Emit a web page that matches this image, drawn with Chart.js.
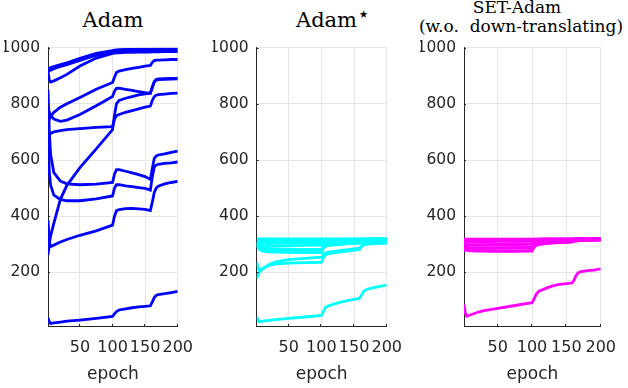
<!DOCTYPE html>
<html>
<head>
<meta charset="utf-8">
<script src="https://cdn.jsdelivr.net/npm/chart.js@4/dist/chart.umd.min.js"></script>
<style>
  body { margin: 0; background: #fff; width: 628px; height: 388px; position: relative; overflow: hidden; }
  canvas { position: absolute; top: 0; }
  .title { position: absolute; font-family: 'DejaVu Serif', serif; color: #000; white-space: pre; transform: translateX(-50%); line-height: 1; }
</style>
</head>
<body>
<div class="title" style="left:113px; top:10px; font-size:21px;">Adam</div>
<div class="title" style="left:333px; top:10px; font-size:21px;">Adam<sup style="font-size:21px; vertical-align:6px; line-height:0;">⋆</sup></div>
<div class="title" style="left:517px; top:-1px; font-size:17px;">SET-Adam</div>
<div class="title" style="left:521px; top:18px; font-size:17px;">(w.o.  down-translating)</div>
<canvas id="adam" width="205" height="388" style="left:0px"></canvas>
<canvas id="adamStar" width="206" height="388" style="left:208px"></canvas>
<canvas id="setAdam" width="212" height="388" style="left:416px"></canvas>
<script>
const EPOCHS = [1, 3, 5, 10, 20, 30, 50, 75, 100, 103, 106, 110, 120, 130, 140, 150, 158, 161, 164, 167, 170, 180, 190, 200];
const X_TICKS = [50, 100, 150, 200];
const Y_TICKS = [200, 400, 600, 800, 1000];

// Adam (blue)
const adamRuns = [
  [925, 927, 929, 933, 940, 946, 962, 980, 990, 991, 992, 993, 994, 994, 995, 995, 995, 995, 996, 996, 996, 996, 996, 996],
  [915, 918, 920, 925, 933, 940, 955, 973, 985, 986, 987, 987, 988, 988, 988, 989, 989, 989, 990, 990, 990, 990, 991, 991],
  [915, 885, 878, 882, 893, 905, 935, 963, 980, 981, 982, 982, 983, 983, 984, 984, 984, 985, 985, 985, 985, 986, 986, 986],
  [730, 745, 755, 770, 788, 800, 823, 852, 876, 895, 912, 917, 922, 926, 930, 934, 937, 948, 954, 956, 956, 957, 958, 958],
  [790, 770, 758, 746, 738, 742, 762, 793, 826, 845, 855, 856, 852, 848, 844, 840, 838, 860, 880, 887, 889, 890, 891, 891],
  [262, 300, 330, 375, 460, 510, 573, 640, 708, 760, 800, 812, 820, 826, 832, 836, 838, 858, 878, 884, 886, 887, 888, 889],
  [684, 690, 695, 700, 705, 708, 712, 716, 719, 745, 758, 762, 770, 776, 782, 788, 792, 812, 826, 831, 833, 835, 837, 838],
  [850, 700, 620, 555, 525, 515, 512, 514, 520, 550, 566, 566, 560, 554, 548, 541, 531, 570, 606, 614, 618, 622, 627, 632],
  [700, 560, 510, 475, 460, 455, 455, 462, 472, 500, 512, 512, 508, 505, 502, 499, 493, 540, 575, 582, 585, 588, 590, 593],
  [386, 310, 292, 297, 308, 317, 332, 348, 368, 400, 420, 423, 427, 428, 426, 424, 420, 450, 485, 500, 507, 515, 520, 524],
  [38, 25, 18, 20, 23, 26, 30, 36, 43, 52, 60, 66, 70, 74, 77, 79, 81, 95, 110, 118, 121, 124, 128, 132]
];

// Adam* (cyan)
const adamStarRuns = [
  [319, 319, 319, 319, 319, 319, 319, 319, 319, 319, 319, 319, 319, 319, 319, 319, 319, 319, 319, 319, 319, 320, 320, 320],
  [314, 314, 314, 314, 314, 314, 315, 315, 315, 316, 317, 317, 317, 317, 318, 318, 318, 318, 318, 318, 318, 318, 318, 318],
  [310, 308, 307, 306, 305, 305, 305, 306, 306, 309, 311, 312, 313, 314, 315, 315, 315, 316, 316, 316, 316, 316, 317, 317],
  [305, 300, 298, 296, 295, 295, 295, 296, 297, 302, 305, 307, 309, 310, 311, 312, 312, 313, 313, 314, 314, 314, 315, 315],
  [305, 296, 292, 288, 285, 284, 283, 282, 282, 293, 298, 300, 302, 304, 305, 306, 307, 309, 311, 312, 312, 313, 313, 314],
  [300, 288, 282, 276, 273, 272, 271, 270, 270, 286, 292, 295, 298, 300, 302, 303, 304, 306, 308, 309, 310, 311, 311, 312],
  [296, 288, 284, 280, 278, 277, 276, 276, 276, 290, 295, 297, 299, 301, 302, 304, 305, 307, 309, 310, 310, 311, 312, 312],
  [237, 215, 208, 215, 225, 230, 233, 235, 236, 252, 262, 266, 270, 273, 276, 279, 281, 290, 297, 300, 301, 302, 303, 304],
  [178, 192, 200, 212, 228, 237, 245, 250, 254, 262, 268, 272, 275, 278, 281, 284, 286, 293, 299, 301, 302, 303, 304, 305],
  [312, 311, 311, 310, 310, 310, 311, 311, 312, 314, 315, 316, 316, 317, 317, 317, 318, 318, 318, 318, 318, 319, 319, 319],
  [41, 30, 24, 26, 29, 32, 36, 41, 47, 60, 74, 80, 88, 94, 99, 104, 107, 118, 130, 136, 140, 146, 150, 155]
];

// SET-Adam without down-translating (magenta)
const setAdamRuns = [
  [318, 318, 318, 318, 318, 318, 318, 318, 318, 318, 318, 318, 318, 318, 318, 318, 318, 318, 318, 318, 318, 319, 319, 319],
  [316, 316, 316, 316, 316, 316, 317, 317, 317, 318, 318, 318, 319, 319, 319, 319, 319, 320, 320, 320, 320, 320, 320, 320],
  [312, 312, 312, 312, 312, 313, 313, 314, 314, 316, 317, 317, 318, 318, 318, 318, 318, 319, 319, 319, 319, 319, 319, 319],
  [305, 302, 300, 299, 298, 298, 298, 299, 300, 306, 309, 311, 312, 313, 314, 315, 315, 316, 316, 317, 317, 317, 318, 318],
  [300, 292, 289, 287, 287, 287, 287, 288, 289, 298, 303, 305, 307, 309, 310, 311, 312, 313, 314, 315, 315, 316, 316, 317],
  [296, 287, 283, 280, 278, 277, 277, 277, 278, 292, 298, 301, 304, 306, 307, 308, 309, 311, 312, 313, 313, 314, 315, 315],
  [290, 282, 279, 277, 276, 276, 275, 275, 276, 290, 296, 299, 302, 304, 306, 307, 308, 310, 311, 312, 313, 314, 314, 315],
  [273, 282, 285, 286, 287, 287, 287, 288, 288, 298, 303, 306, 308, 310, 311, 312, 313, 314, 315, 315, 316, 316, 317, 317],
  [280, 292, 295, 297, 298, 299, 300, 301, 302, 308, 311, 312, 313, 314, 315, 315, 316, 316, 316, 317, 317, 317, 318, 318],
  [310, 309, 309, 309, 309, 309, 310, 310, 311, 313, 314, 315, 315, 316, 316, 316, 317, 317, 317, 317, 318, 318, 318, 318],
  [86, 55, 44, 48, 57, 64, 72, 82, 92, 105, 122, 133, 143, 152, 157, 160, 162, 172, 188, 198, 202, 206, 208, 212]
];

const TICK_COLOR = '#262626';
const GRID_COLOR = '#e6e6e6';

// small inward tick marks along the two axes, like the original plot
const innerTicks = {
  id: 'innerTicks',
  afterDraw(chart) {
    const ctx = chart.ctx;
    const xs = chart.scales.x, ys = chart.scales.y;
    const area = chart.chartArea;
    ctx.save();
    ctx.strokeStyle = TICK_COLOR;
    ctx.lineWidth = 1;
    ctx.beginPath();
    xs.ticks.forEach(t => {
      const px = Math.round(xs.getPixelForValue(t.value)) - 0.5;
      ctx.moveTo(px, area.bottom);
      ctx.lineTo(px, area.bottom - 2);
    });
    ys.ticks.forEach(t => {
      const py = Math.round(ys.getPixelForValue(t.value)) + 0.5;
      ctx.moveTo(area.left, py);
      ctx.lineTo(area.left + 2, py);
    });
    ctx.stroke();
    ctx.restore();
  }
};

function makePanel(canvasId, runs, color, padLeft, padRight) {
  const datasets = runs.map(run => ({
    data: run.map((v, i) => ({ x: EPOCHS[i], y: v })),
    borderColor: color,
    borderWidth: 2.8,
    pointRadius: 0,
    tension: 0,
    fill: false,
  }));

  return new Chart(document.getElementById(canvasId), {
    type: 'line',
    data: { datasets: datasets },
    plugins: [innerTicks],
    options: {
      responsive: false,
      animation: false,
      layout: { padding: { left: padLeft, right: padRight, top: 47.7, bottom: 0 } },
      plugins: { legend: { display: false }, tooltip: { enabled: false } },
      scales: {
        x: {
          type: 'linear',
          min: 1,
          max: 200,
          afterBuildTicks: (scale) => { scale.ticks = X_TICKS.map(v => ({ value: v })); },
          afterFit: (scale) => { scale.height = 62; },
          grid: { color: GRID_COLOR, drawTicks: false },
          border: { color: TICK_COLOR },
          ticks: { color: TICK_COLOR, padding: 12, maxRotation: 0, callback: (v) => String(v), font: { family: 'DejaVu Sans', size: 16 } },
          title: { display: true, text: 'epoch', color: TICK_COLOR, padding: { top: 0, bottom: 3 }, font: { family: 'DejaVu Sans', size: 17 } },
        },
        y: {
          min: 9,
          max: 1000,
          afterBuildTicks: (scale) => { scale.ticks = Y_TICKS.map(v => ({ value: v })); },
          afterFit: (scale) => { scale.width = 44; },
          grid: { color: GRID_COLOR, drawTicks: false },
          border: { color: TICK_COLOR },
          ticks: { color: TICK_COLOR, padding: 8, callback: (v) => String(v), font: { family: 'DejaVu Sans', size: 15.5 } },
        },
      },
    },
  });
}

makePanel('adam', adamRuns, '#0000ff', 4, 16);
makePanel('adamStar', adamStarRuns, '#00ffff', 4.7, 16.7);
makePanel('setAdam', setAdamRuns, '#ff00ff', 4, 23.7);
</script>
</body>
</html>
